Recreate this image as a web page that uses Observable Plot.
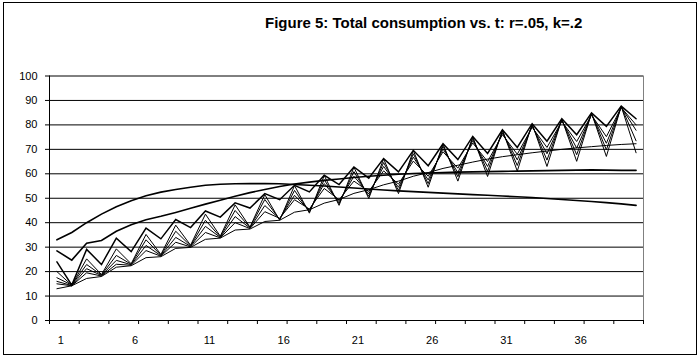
<!DOCTYPE html>
<html>
<head>
<meta charset="utf-8">
<script src="https://cdn.jsdelivr.net/npm/d3@7"></script>
<script src="https://cdn.jsdelivr.net/npm/@observablehq/plot@0.6"></script>
<style>
  body { margin: 0; background: #fff; }
  #chart { position: relative; width: 700px; height: 358px; font-family: "Liberation Sans", Arial, sans-serif; background: #fff; }
  #chart svg { position: absolute; left: 0; top: 0; }
  #frame { position: absolute; left: 3px; top: 2px; width: 694px; height: 353px; border: 1px solid #000; box-sizing: border-box; pointer-events: none; }
  #title { position: absolute; left: 265px; top: 14px; width: 300px; text-align: center; white-space: nowrap; font-weight: bold; font-size: 15px; color: #000; }
</style>
</head>
<body>
<div id="chart">
  <div id="frame"></div>
  <div id="title">Figure 5: Total consumption vs. t: r=.05, k=.2</div>
</div>
<script>
// Periods t = 1..40
const periods = [1,2,3,4,5,6,7,8,9,10,11,12,13,14,15,16,17,18,19,20,
                 21,22,23,24,25,26,27,28,29,30,31,32,33,34,35,36,37,38,39,40];
const xLabels = [1, 6, 11, 16, 21, 26, 31, 36];
const yTicks = [0, 10, 20, 30, 40, 50, 60, 70, 80, 90, 100];

// Total consumption, one series per parameter setting
const seriesA = [33, 36, 40, 43.5, 46.5, 49, 51, 52.5, 53.6, 54.5, 55.3, 55.7, 55.9, 56, 56, 55.9, 55.6, 55.3, 55, 54.6,
                 54.2, 53.8, 53.4, 53, 52.7, 52.4, 52.1, 51.8, 51.5, 51.2, 50.9, 50.6, 50.3, 49.9, 49.5, 49.1, 48.7, 48.2, 47.7, 47.1];
const seriesB = [28.5, 24.7, 31.6, 32.7, 36.5, 39.2, 41.2, 42.6, 44.2, 45.9, 47.6, 49.2, 50.8, 52.3, 53.6, 54.8, 55.8, 56.6, 57.3, 57.9,
                 58.5, 59, 59.4, 59.8, 60.1, 60.3, 60.5, 60.7, 60.8, 60.9, 61, 61.1, 61.2, 61.3, 61.4, 61.5, 61.6, 61.5, 61.4, 61.4];
const seriesC = [13, 14.2, 17.2, 18, 21.8, 22.4, 25.7, 26.1, 29.5, 29.9, 33.2, 33.7, 37, 37.4, 40.5, 41, 44.3, 45.3, 48, 49.5,
                 52, 53.5, 55.5, 57, 59, 60.5, 62.2, 63.5, 64.8, 66, 67, 67.8, 68.6, 69.3, 70, 70.6, 71.1, 71.6, 72, 72.3];
const seriesD = [24, 14.5, 29.1, 22.9, 33.7, 28.2, 37.8, 33.4, 41.3, 38, 44.8, 42.3, 48.1, 46, 51.9, 49.4, 55.3, 52.6, 59.4, 55.6,
                 62.8, 58.2, 66.2, 60.8, 69.6, 63.3, 72.3, 65.8, 75.3, 68.3, 78, 70.8, 80.5, 73.3, 82.5, 76, 84.9, 79.4, 87.7, 82.5];
const seriesE = [20, 14.4, 25.2, 18.8, 29.3, 23.2, 35.2, 27, 39, 30.8, 43.5, 34.5, 47.3, 38.2, 51.5, 41, 55.2, 43.9, 59.3, 47.1,
                 62.7, 49.9, 66.1, 51.9, 69.5, 54.5, 72.2, 57, 75.2, 58.9, 77.9, 61.1, 80.4, 63, 82.4, 65.1, 84.8, 67.1, 87.6, 68.6];
const seriesF = [17.5, 14.5, 22.9, 18.6, 26.6, 23, 33, 26.7, 36.5, 30.5, 41, 34.2, 45, 38, 49.5, 41.3, 53.2, 44.4, 57.6, 47.8,
                 60.9, 50.8, 64.6, 53.2, 68.2, 56, 71.3, 58.8, 74.5, 61, 77.4, 63.4, 80, 65.6, 82.2, 67.8, 84.6, 69.8, 87.5, 73.5];
const seriesG = [16, 14.3, 21.2, 18.4, 24.6, 22.8, 30.7, 26.5, 34, 30.3, 38.5, 34, 42.5, 37.8, 47, 41.6, 51.2, 45, 56, 48.6,
                 59, 51.8, 63, 54.5, 66.8, 57.5, 70.2, 60.5, 73.6, 63, 76.7, 65.7, 79.5, 68.2, 81.8, 70.5, 84.3, 72.5, 87.3, 77.8];
const seriesH = [15, 14.2, 19.5, 18.2, 23, 22.6, 28.6, 26.3, 32, 30.1, 36, 33.8, 40, 37.6, 44.5, 41.8, 49.4, 45.6, 54, 49.4,
                 57, 52.8, 61.2, 55.8, 65.2, 59, 69, 62.3, 72.6, 65, 76, 68, 79, 70.8, 81.4, 73.2, 84, 75.2, 87.1, 80];

const seriesList = [
  {name: "A", values: seriesA, width: 1.6},
  {name: "B", values: seriesB, width: 1.6},
  {name: "C", values: seriesC, width: 1},
  {name: "D", values: seriesD, width: 1.5},
  {name: "E", values: seriesE, width: 1},
  {name: "F", values: seriesF, width: 1},
  {name: "G", values: seriesG, width: 1},
  {name: "H", values: seriesH, width: 1}
];

const rows = seriesList.flatMap(s =>
  periods.map((t, i) => ({series: s.name, t, v: s.values[i]}))
);

// Category boundaries every two periods carry the x tick marks
const boundaryTicks = periods.filter(t => t % 2 === 1).map(t => t - 0.5).concat([periods[periods.length - 1] + 0.5]);

const chart = Plot.plot({
  width: 700,
  height: 358,
  marginTop: 75.5,
  marginBottom: 38,
  marginLeft: 49,
  marginRight: 57,
  style: {fontFamily: "'Liberation Sans', Arial, sans-serif", fontSize: "11px", color: "#000", background: "transparent"},
  x: {domain: [0.5, 40.5], axis: null},
  y: {domain: [0, 100], axis: null},
  marks: [
    Plot.ruleY(yTicks.filter(v => v > 0), {stroke: "#000", strokeWidth: 1}),
    Plot.ruleX([40.5], {stroke: "#808080", strokeWidth: 1}),
    Plot.ruleY([0], {stroke: "#000", strokeWidth: 1}),
    Plot.ruleX([0.5], {stroke: "#000", strokeWidth: 1}),
    Plot.axisY({ticks: yTicks, tickSize: 4, tickPadding: 8, tickFormat: d => String(d), label: null}),
    Plot.axisX({ticks: boundaryTicks, tickSize: 4, tickFormat: () => "", label: null}),
    Plot.axisX({ticks: xLabels, tickSize: 0, tickPadding: 16, tickFormat: d => String(d), dx: 4, label: null}),
    ...seriesList.map(s => Plot.line(rows.filter(r => r.series === s.name), {
      x: "t", y: "v", stroke: "#000", strokeWidth: s.width, strokeLinejoin: "miter", strokeMiterlimit: 10
    }))
  ]
});

document.getElementById("chart").insertBefore(chart, document.getElementById("frame"));
</script>
</body>
</html>
